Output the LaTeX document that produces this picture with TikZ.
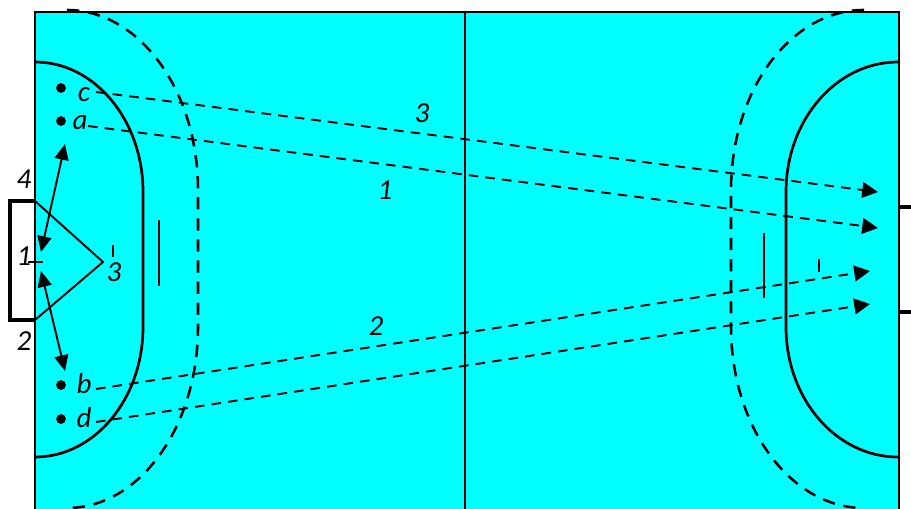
\documentclass[tikz,border=0pt]{standalone}
\usepackage{fontspec}
\setmainfont{Carlito}
\usepackage{xcolor}
\usetikzlibrary{arrows.meta}
\definecolor{courtcyan}{HTML}{00FFFF}
\tikzset{
  courtline/.style={line width=1.55pt},
  goalline/.style={line width=2.7pt},
  thinline/.style={line width=1.1pt},
  freeline/.style={line width=1.45pt, dash pattern=on 7pt off 5pt},
  passline/.style={line width=1.1pt, dash pattern=on 5.5pt off 4pt, -{Triangle[length=9pt,width=9pt]}},
  moveline/.style={line width=1.1pt, {Triangle[length=9pt,width=8pt]}-{Triangle[length=9pt,width=8pt]}},
  playerdot/.style={circle, fill=black, inner sep=0pt, minimum size=5.6pt},
  playerlabel/.style={font=\fontsize{16.5}{16.5}\selectfont\itshape, inner sep=0pt}
}

\begin{document}
\begin{tikzpicture}[x=0.02cm, y=-0.02cm]
    \clip (0,0) rectangle (911,509);
    \fill[white] (0,0) rectangle (911,509);

    % court
    \draw[courtline, fill=courtcyan] (35,12) rectangle (899,530);
    \draw[courtline] (465,12) -- (465,530);

    % goal areas
    \draw[courtline] (35,62) arc[start angle=-90, end angle=0, x radius=108, y radius=130]
      -- (143,327) arc[start angle=0, end angle=90, x radius=108, y radius=130];
    \draw[courtline] (898,62) arc[start angle=-90, end angle=-180, x radius=112, y radius=130]
      -- (786,327) arc[start angle=180, end angle=90, x radius=112, y radius=130];

    % free throw lines
    \draw[freeline] (67,10) arc[start angle=-90, end angle=0, x radius=131, y radius=180]
      -- (198,327) arc[start angle=0, end angle=90, x radius=131, y radius=181];
    \draw[freeline] (864,10) arc[start angle=-90, end angle=-180, x radius=133, y radius=180]
      -- (731,327) arc[start angle=180, end angle=90, x radius=133, y radius=181];

    % goals
    \draw[goalline] (35,201) -- (10,201) -- (10,320) -- (35,320);
    \draw[goalline] (898,207) -- (911,207);
    \draw[goalline] (898,312) -- (911,312);

    % marks
    \draw[thinline] (159,220) -- (159,286);
    \draw[thinline] (113,245) -- (113,257);
    \draw[thinline] (764,233) -- (764,298);
    \draw[thinline] (819,259) -- (819,272);
    \draw[thinline] (28,262) -- (43,262);

    % keeper angle
    \coordinate (postTop) at (35,201);
    \coordinate (postBottom) at (35,320);
    \coordinate (apex) at (103,262);
    \draw[thinline] (postTop) -- (apex) -- (postBottom);

    % players
    \foreach \name/\ypos in {dotC/88, dotA/121, dotB/385, dotD/419}
      \node[playerdot] (\name) at (61,\ypos) {};

    \node[playerlabel] (labelC) at (84,95) {c};
    \node[playerlabel] (labelA) at (80,123) {a};
    \node[playerlabel] (labelB) at (84,384) {b};
    \node[playerlabel] (labelD) at (84,418) {d};
    \node[playerlabel] (label4) at (24,179) {4};
    \node[playerlabel] (label1) at (24,256) {1};
    \node[playerlabel] (label2) at (24,341) {2};
    \node[playerlabel] (label3) at (114,272) {3};
    \node[playerlabel] (pass3) at (422,113) {3};
    \node[playerlabel] (pass1) at (385,190) {1};
    \node[playerlabel] (pass2) at (376,326) {2};

    % arrows
    \coordinate (tailC) at (96,92);
    \coordinate (tailA) at (88,126);
    \coordinate (tailB) at (96,389);
    \coordinate (tailD) at (96,422);
    \coordinate (headC) at (878,192);
    \coordinate (headA) at (878,228);
    \coordinate (headB) at (870,271);
    \coordinate (headD) at (870,304);
    \draw[passline] (tailC) -- (headC);
    \draw[passline] (tailA) -- (headA);
    \draw[passline] (tailB) -- (headB);
    \draw[passline] (tailD) -- (headD);

    \coordinate (moveA) at (65,144);
    \coordinate (moveB) at (65,371);
    \coordinate (keepTop) at (41,252);
    \coordinate (keepBottom) at (41,271);
    \draw[moveline] (moveA) -- (keepTop);
    \draw[moveline] (keepBottom) -- (moveB);
\end{tikzpicture}
\end{document}
